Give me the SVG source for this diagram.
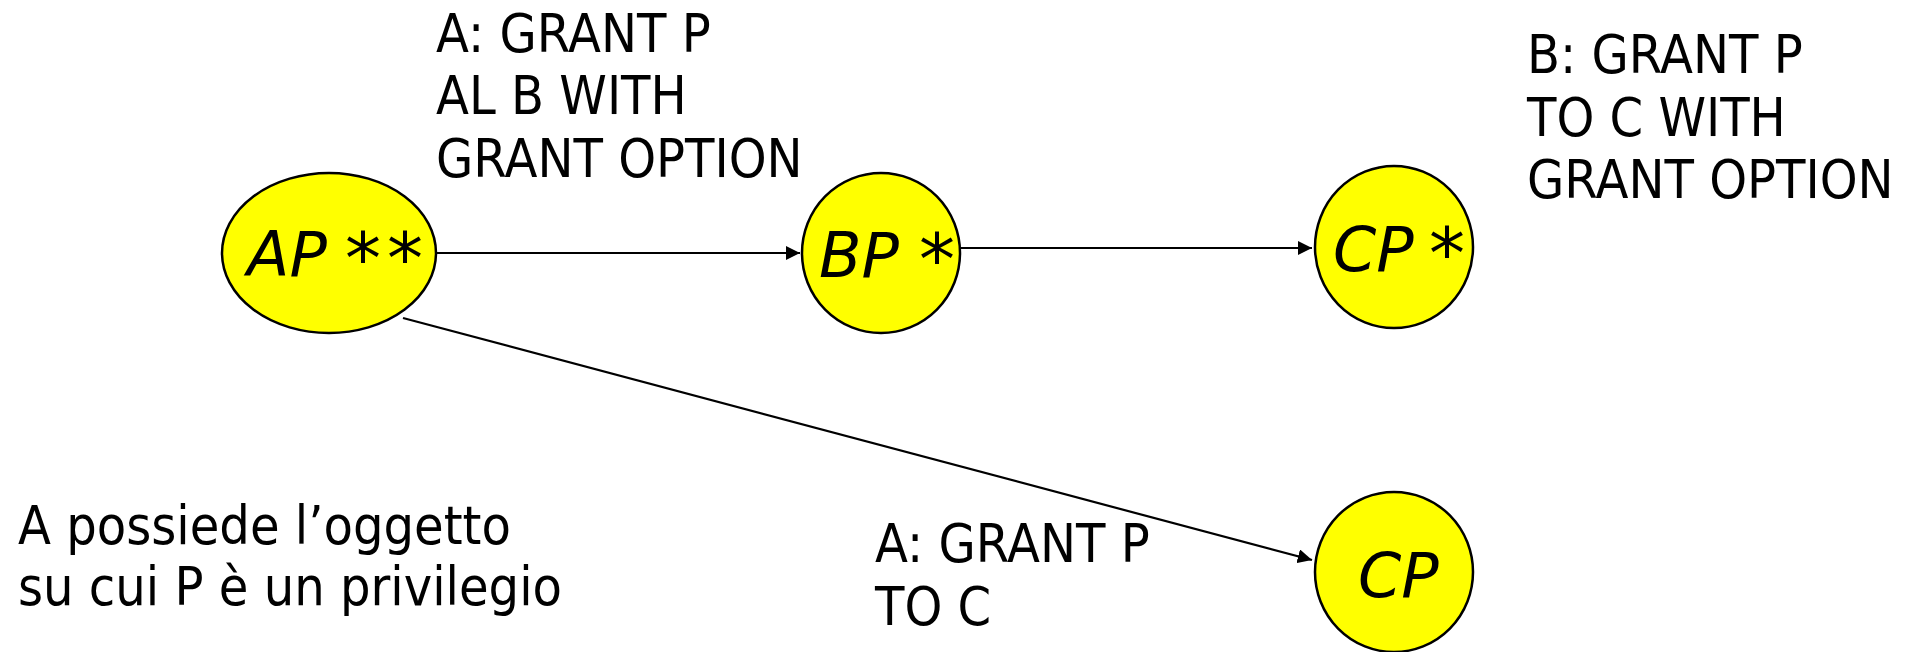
<svg xmlns="http://www.w3.org/2000/svg" width="1909" height="652" viewBox="0 0 1909 652">
<style>
.t{font-family:"DejaVu Sans Condensed","DejaVu Sans",sans-serif;font-stretch:condensed;font-size:53.5px;fill:#000}
.n{fill:#ffff00;stroke:#000;stroke-width:2.5}
.l{font-family:"DejaVu Sans",sans-serif;font-style:italic;font-size:62px;fill:#000}
.s{font-size:72px;letter-spacing:6px}
.c{stroke:#000;stroke-width:2.2;fill:none;marker-end:url(#ah)}
</style>
<defs>
<marker id="ah" viewBox="0 0 10 10" refX="10" refY="5" markerWidth="6.5" markerHeight="6.5" markerUnits="strokeWidth" orient="auto">
<path d="M0,0 L10,5 L0,10 z" fill="#000"/>
</marker>
</defs>
<g id="connectors">
<line class="c" x1="436" y1="253" x2="800" y2="253"/>
<line class="c" x1="961" y1="248" x2="1312" y2="248"/>
<line class="c" x1="403" y1="318" x2="1312" y2="560"/>
</g>
<g id="node-ap"><ellipse class="n" cx="329" cy="253" rx="107" ry="80"/><text class="l" x="247" y="276">AP<tspan class="s" x="345" dy="7">**</tspan></text></g>
<g id="node-bp"><ellipse class="n" cx="881" cy="253" rx="79" ry="80"/><text class="l" x="819" y="277">BP<tspan class="s" x="919" dy="7">*</tspan></text></g>
<g id="node-cp1"><ellipse class="n" cx="1394" cy="247" rx="79" ry="81"/><text class="l" x="1333" y="271">CP<tspan class="s" x="1429" dy="7">*</tspan></text></g>
<g id="node-cp2"><ellipse class="n" cx="1394" cy="572" rx="79" ry="80"/><text class="l" x="1358" y="597">CP</text></g>
<g id="labels">
<text class="t" x="436" y="52">A: GRANT P</text>
<text class="t" x="436" y="114">AL B WITH</text>
<text class="t" x="436" y="177">GRANT OPTION</text>
<text class="t" x="1527" y="73">B: GRANT P</text>
<text class="t" x="1527" y="136">TO C WITH</text>
<text class="t" x="1527" y="198">GRANT OPTION</text>
<text class="t" x="18" y="544">A possiede l’oggetto</text>
<text class="t" x="18" y="605">su cui P è un privilegio</text>
<text class="t" x="875" y="562">A: GRANT P</text>
<text class="t" x="875" y="625">TO C</text>
</g>
</svg>
